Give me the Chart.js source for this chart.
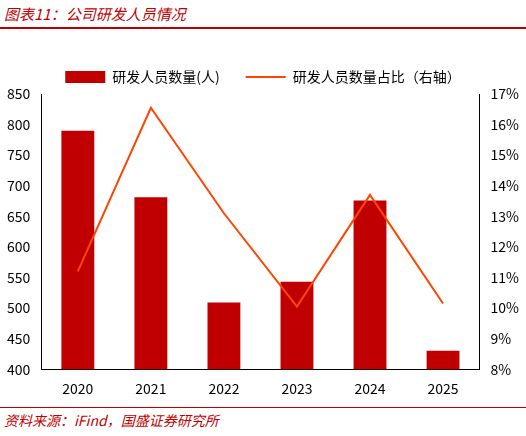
<!DOCTYPE html>
<html><head><meta charset="utf-8">
<script src="https://cdn.jsdelivr.net/npm/chart.js@4"></script>
<style>
body{margin:0;width:526px;height:436px;background:#fff;font-family:"Noto Sans CJK SC",sans-serif;position:relative;overflow:hidden}
#title{position:absolute;left:4px;top:3px;color:#C00000;font-size:15px;font-style:italic}
#tl{position:absolute;left:0;top:27px;width:526px;height:2px;background:#C00000}
#bl{position:absolute;left:0;top:407px;width:526px;height:1px;background:#C00000}
#src{position:absolute;left:4px;top:410px;font-size:14px;font-style:italic;color:#C00000}
#wrap{position:absolute;left:0;top:44px;width:526px;height:356px}
</style></head><body>
<div id="title">图表11：公司研发人员情况</div><div id="tl"></div>
<div id="wrap"><canvas id="c"></canvas></div>
<div id="bl"></div><div id="src">资料来源：iFind，国盛证券研究所</div>
<script>
const categories=["2020","2021","2022","2023","2024","2025"];
const staff=[790,681,509,543,676,430];
const ratio=[11.2,16.55,13.1,10.05,13.7,10.15];
Chart.defaults.font.family='"Noto Sans CJK SC",sans-serif';
Chart.defaults.color='#000';
new Chart(document.getElementById('c'),{
data:{labels:categories,datasets:[
{type:'line',label:'研发人员数量占比（右轴）',data:ratio,yAxisID:'y1',borderColor:'#FF4500',backgroundColor:'#FF4500',borderWidth:2,pointRadius:0,pointStyle:'line',tension:0,order:0},
{type:'bar',label:'研发人员数量(人)',data:staff,yAxisID:'y',backgroundColor:'#C00000',pointStyle:'rect',barPercentage:0.6,categoryPercentage:0.75,order:1}
]},
options:{responsive:true,maintainAspectRatio:false,animation:false,
layout:{padding:{left:4,right:4,top:0,bottom:0}},
plugins:{legend:{reverse:true,labels:{font:{size:14},usePointStyle:true,pointStyleWidth:40,boxHeight:12,padding:26}},tooltip:{enabled:false}},
scales:{
x:{grid:{display:false},border:{color:'#000'},ticks:{font:{size:14}}},
y:{min:400,max:850,ticks:{stepSize:50,font:{size:14}},grid:{display:false},border:{color:'#000'}},
y1:{position:'right',min:8,max:17,ticks:{stepSize:1,font:{size:14},callback:v=>v+'%'},grid:{display:false},border:{color:'#000'}}
}}});
</script></body></html>
